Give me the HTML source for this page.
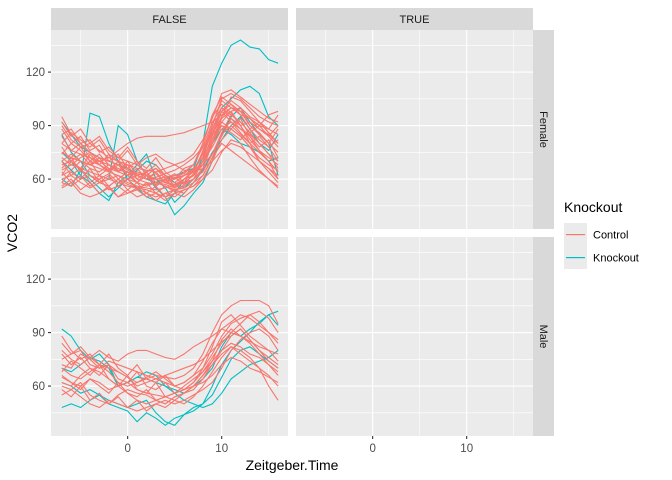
<!DOCTYPE html>
<html><head><meta charset="utf-8"><style>
body{margin:0;background:#fff;}
svg{display:block;font-family:"Liberation Sans",sans-serif;}
</style></head><body>
<svg id="chart" width="672" height="480" viewBox="0 0 672 480"></svg>
<script>
const hours=[-7,-6,-5,-4,-3,-2,-1,0,1,2,3,4,5,6,7,8,9,10,11,12,13,14,15,16];
const xTicks=[0,10];
const yTicks=[60,90,120];
const colLabels=["FALSE","TRUE"];
const rowLabels=["Female","Male"];
const femaleControl=[
[95,85,80,75,72,70,68,65,62,60,60,58,57,60,65,75,90,105,108,105,100,95,92,90],
[60,62,58,55,58,60,62,58,56,55,54,55,57,58,60,70,85,95,100,98,90,85,80,75],
[75,72,78,70,68,65,70,66,63,62,60,61,62,63,68,80,95,102,97,90,92,88,85,80],
[68,70,65,62,60,63,58,56,55,57,58,56,54,55,58,62,72,85,90,85,80,75,70,60],
[85,88,80,82,75,78,72,70,68,72,74,70,68,65,64,66,80,92,98,100,95,92,88,96],
[55,58,52,50,52,55,50,52,55,54,52,50,52,54,56,60,65,75,82,80,72,65,60,55],
[80,76,74,72,70,68,65,64,62,60,61,63,65,68,72,78,85,90,88,84,78,72,68,65],
[62,65,70,68,66,64,62,60,58,56,58,57,55,58,62,70,78,88,92,88,85,80,74,70],
[72,68,66,64,62,60,58,60,62,64,66,62,60,62,66,72,82,95,106,104,98,92,86,80],
[90,82,78,80,76,72,70,68,66,65,64,66,68,70,74,82,94,108,110,106,102,98,94,92],
[58,56,60,62,58,56,60,57,55,52,50,52,54,56,60,66,70,76,80,78,74,70,66,62],
[65,68,72,75,70,66,64,62,64,62,60,58,60,62,64,68,74,84,94,90,80,70,64,58],
[70,74,70,66,64,68,66,64,60,58,57,59,61,62,65,74,86,98,104,100,90,86,80,88],
[75,72,70,68,70,72,76,80,83,84,84,84,85,86,88,90,92,96,100,98,94,90,88,85],
[88,80,84,76,79,70,74,66,70,62,66,60,63,58,66,72,88,100,96,92,86,90,84,78],
[66,72,64,70,62,66,60,64,58,62,56,60,55,60,62,68,82,92,88,94,84,78,82,72],
[78,70,74,68,72,64,68,62,66,60,63,58,61,57,63,76,90,104,100,96,88,82,78,70],
[58,64,60,66,58,62,56,60,54,58,52,56,53,57,60,64,74,86,96,92,86,80,74,66],
[84,76,80,72,68,74,64,68,60,64,58,62,56,60,64,74,88,98,92,86,80,84,78,82],
[70,62,66,58,62,56,60,54,58,52,56,50,54,52,58,66,80,94,98,90,82,76,70,64],
[62,70,66,74,68,64,70,62,58,64,56,60,58,62,64,70,84,98,102,96,94,90,96,98],
[92,84,88,80,84,76,72,78,70,66,72,64,60,66,68,78,92,100,94,88,84,76,72,68],
[56,60,54,58,52,56,50,54,50,52,48,52,50,54,56,62,72,80,76,72,68,64,60,56],
[74,80,76,70,74,68,64,70,62,60,64,58,56,60,62,70,80,90,86,82,88,92,86,80],
[64,58,62,56,60,54,56,52,54,50,52,48,52,50,54,60,70,82,88,84,78,70,66,60],
[80,86,82,78,82,74,70,76,68,64,68,62,60,64,68,80,96,106,102,98,94,88,84,90]];
const femaleKnockout=[
[92,85,78,75,72,70,68,66,62,60,58,60,62,64,66,80,112,125,135,138,134,133,127,125],
[70,65,60,97,95,80,70,60,55,50,48,46,52,60,62,72,88,100,105,110,112,108,95,90],
[85,75,70,62,58,60,90,85,70,62,55,50,40,45,52,58,70,85,95,100,92,85,80,62],
[60,56,65,60,55,50,55,60,65,70,68,62,58,55,60,66,80,88,85,80,78,75,70,72],
[75,70,62,58,52,48,58,62,68,74,60,55,47,52,58,65,75,82,90,95,88,80,76,85]];
const maleControl=[
[88,80,75,78,72,70,68,65,62,64,66,65,64,66,70,78,90,100,105,108,108,108,105,95],
[60,58,62,55,52,50,55,58,56,55,52,50,54,56,60,66,72,78,82,80,76,70,60,52],
[72,70,78,75,70,72,68,65,60,62,64,62,60,62,66,70,78,88,95,98,100,96,90,86],
[80,75,72,76,80,76,74,78,80,80,78,76,75,78,82,85,88,92,90,88,85,82,80,78],
[65,62,60,64,62,58,60,62,58,56,55,54,56,58,60,62,66,72,76,74,70,68,65,62],
[55,58,54,50,48,52,50,48,46,48,50,52,50,52,55,58,62,70,80,86,90,92,88,80],
[75,78,80,72,70,74,72,70,68,66,64,66,68,70,72,75,80,85,88,92,86,80,74,70],
[70,66,64,68,72,68,62,60,62,65,68,64,60,58,62,68,76,84,90,95,100,102,98,90],
[62,60,66,70,68,64,60,56,52,50,52,54,56,60,64,68,74,80,84,82,78,76,72,68],
[68,74,70,66,72,64,60,66,58,56,62,54,52,56,60,66,74,86,92,88,84,78,72,66],
[78,72,76,70,66,72,64,62,68,60,58,62,56,58,62,70,82,96,100,94,88,84,80,74],
[58,54,60,52,56,50,54,48,52,46,50,48,52,50,54,60,68,76,82,78,74,70,66,60],
[84,78,82,76,72,78,70,66,72,64,62,66,60,62,66,74,84,92,96,100,98,94,90,84],
[66,62,58,64,60,56,62,56,54,58,52,50,54,56,58,64,72,80,88,92,86,80,76,72]];
const maleKnockout=[
[92,88,80,75,78,72,60,62,65,64,62,60,58,56,60,64,70,82,90,88,92,95,100,102],
[48,50,48,52,55,50,48,46,40,45,42,38,42,44,48,50,55,65,75,80,82,78,74,70],
[70,68,72,76,74,70,60,62,65,68,66,60,56,52,50,48,50,56,64,68,72,74,76,80],
[62,60,56,58,55,52,50,48,50,52,45,40,38,44,46,50,60,72,80,85,90,96,100,94]];

const NS="http://www.w3.org/2000/svg";
const svg=document.getElementById('chart');
function mk(tag,attrs,parent){const e=document.createElementNS(NS,tag);for(const k in attrs)e.setAttribute(k,attrs[k]);(parent||svg).appendChild(e);return e;}
const RED="#F8766D",TEAL="#00BFC4";
const colX=[51,296], panelW=237;
const rowY=[30,237], panelH=199;
const xMin=-8.15,xMax=17.05,yMin=32,yMax=143.6;
function sx(c,v){return colX[c]+(v-xMin)/(xMax-xMin)*panelW;}
function sy(r,v){return rowY[r]+panelH-(v-yMin)/(yMax-yMin)*panelH;}
const panelData=[[[femaleKnockout,TEAL],[femaleControl,RED]],[[maleKnockout,TEAL],[maleControl,RED]]];

for(let r=0;r<2;r++){for(let c=0;c<2;c++){
  const g=mk('g',{});
  
  
  mk('rect',{x:colX[c],y:rowY[r],width:panelW,height:panelH,fill:'#EBEBEB'},g);
  [45,75,105,135].forEach(v=>{const y=sy(r,v);mk('line',{x1:colX[c],x2:colX[c]+panelW,y1:y,y2:y,stroke:'#fff','stroke-width':0.55},g);});
  [-5,5,15].forEach(v=>{const x=sx(c,v);mk('line',{x1:x,x2:x,y1:rowY[r],y2:rowY[r]+panelH,stroke:'#fff','stroke-width':0.55},g);});
  yTicks.forEach(v=>{const y=sy(r,v);mk('line',{x1:colX[c],x2:colX[c]+panelW,y1:y,y2:y,stroke:'#fff','stroke-width':1.1},g);});
  xTicks.forEach(v=>{const x=sx(c,v);mk('line',{x1:x,x2:x,y1:rowY[r],y2:rowY[r]+panelH,stroke:'#fff','stroke-width':1.1},g);});
  if(c===0){
    panelData[r].forEach(([series,col])=>{series.forEach((vals,i)=>{
      const d=vals.map((v,j)=>(j?'L':'M')+sx(c,hours[j]).toFixed(1)+','+sy(r,v).toFixed(1)).join('');
      const p=mk('path',{d:d,fill:'none',stroke:col,'stroke-width':1.1},g);
      
      
    });});
  }
}}
colLabels.forEach((t,c)=>{
  const g=mk('g',{});
  mk('rect',{x:colX[c],y:8,width:panelW,height:22,fill:'#D9D9D9'},g);
  const tx=mk('text',{x:colX[c]+panelW/2,y:23,'text-anchor':'middle','font-size':11,fill:'#1A1A1A'},g);tx.textContent=t;
});
rowLabels.forEach((t,r)=>{
  const g=mk('g',{});
  mk('rect',{x:533,y:rowY[r],width:21,height:panelH,fill:'#D9D9D9'},g);
  const cy=rowY[r]+panelH/2;
  const tx=mk('text',{x:540,y:cy,'text-anchor':'middle','font-size':11,fill:'#1A1A1A',transform:'rotate(90 540 '+cy+')'},g);tx.textContent=t;
});
for(let r=0;r<2;r++){yTicks.forEach(v=>{const y=sy(r,v);
  mk('line',{x1:48,x2:51,y1:y,y2:y,stroke:'#333','stroke-width':1.1});
  const t=mk('text',{x:45,y:y+4,'text-anchor':'end','font-size':11.5,fill:'#4D4D4D'});t.textContent=v;
  
});}
for(let c=0;c<2;c++){xTicks.forEach(v=>{const x=sx(c,v);
  mk('line',{x1:x,x2:x,y1:436,y2:439,stroke:'#333','stroke-width':1.1});
  const t=mk('text',{x:x,y:452,'text-anchor':'middle','font-size':11.5,fill:'#4D4D4D'});t.textContent=v;
  
});}
let t=mk('text',{x:292,y:470,'text-anchor':'middle','font-size':14,fill:'#000'});t.textContent='Zeitgeber.Time';

t=mk('text',{x:17,y:233,'text-anchor':'middle','font-size':14,fill:'#000',transform:'rotate(-90 17 233)'});t.textContent='VCO2';

const lg=mk('g',{});
t=mk('text',{x:564,y:212,'font-size':14,fill:'#000'},lg);t.textContent='Knockout';
[['Control',RED],['Knockout',TEAL]].forEach(([n,col],i)=>{
  const y0=223+i*23;
  const e=mk('g',{},lg);
  mk('rect',{x:564,y:y0,width:23,height:23,fill:'#EBEBEB'},e);
  mk('rect',{x:566,y:y0+11,width:19,height:1.2,fill:col},e);
  const tt=mk('text',{x:593,y:y0+15.5,'font-size':11,fill:'#000'},e);tt.textContent=n;
});
</script>
</body></html>
